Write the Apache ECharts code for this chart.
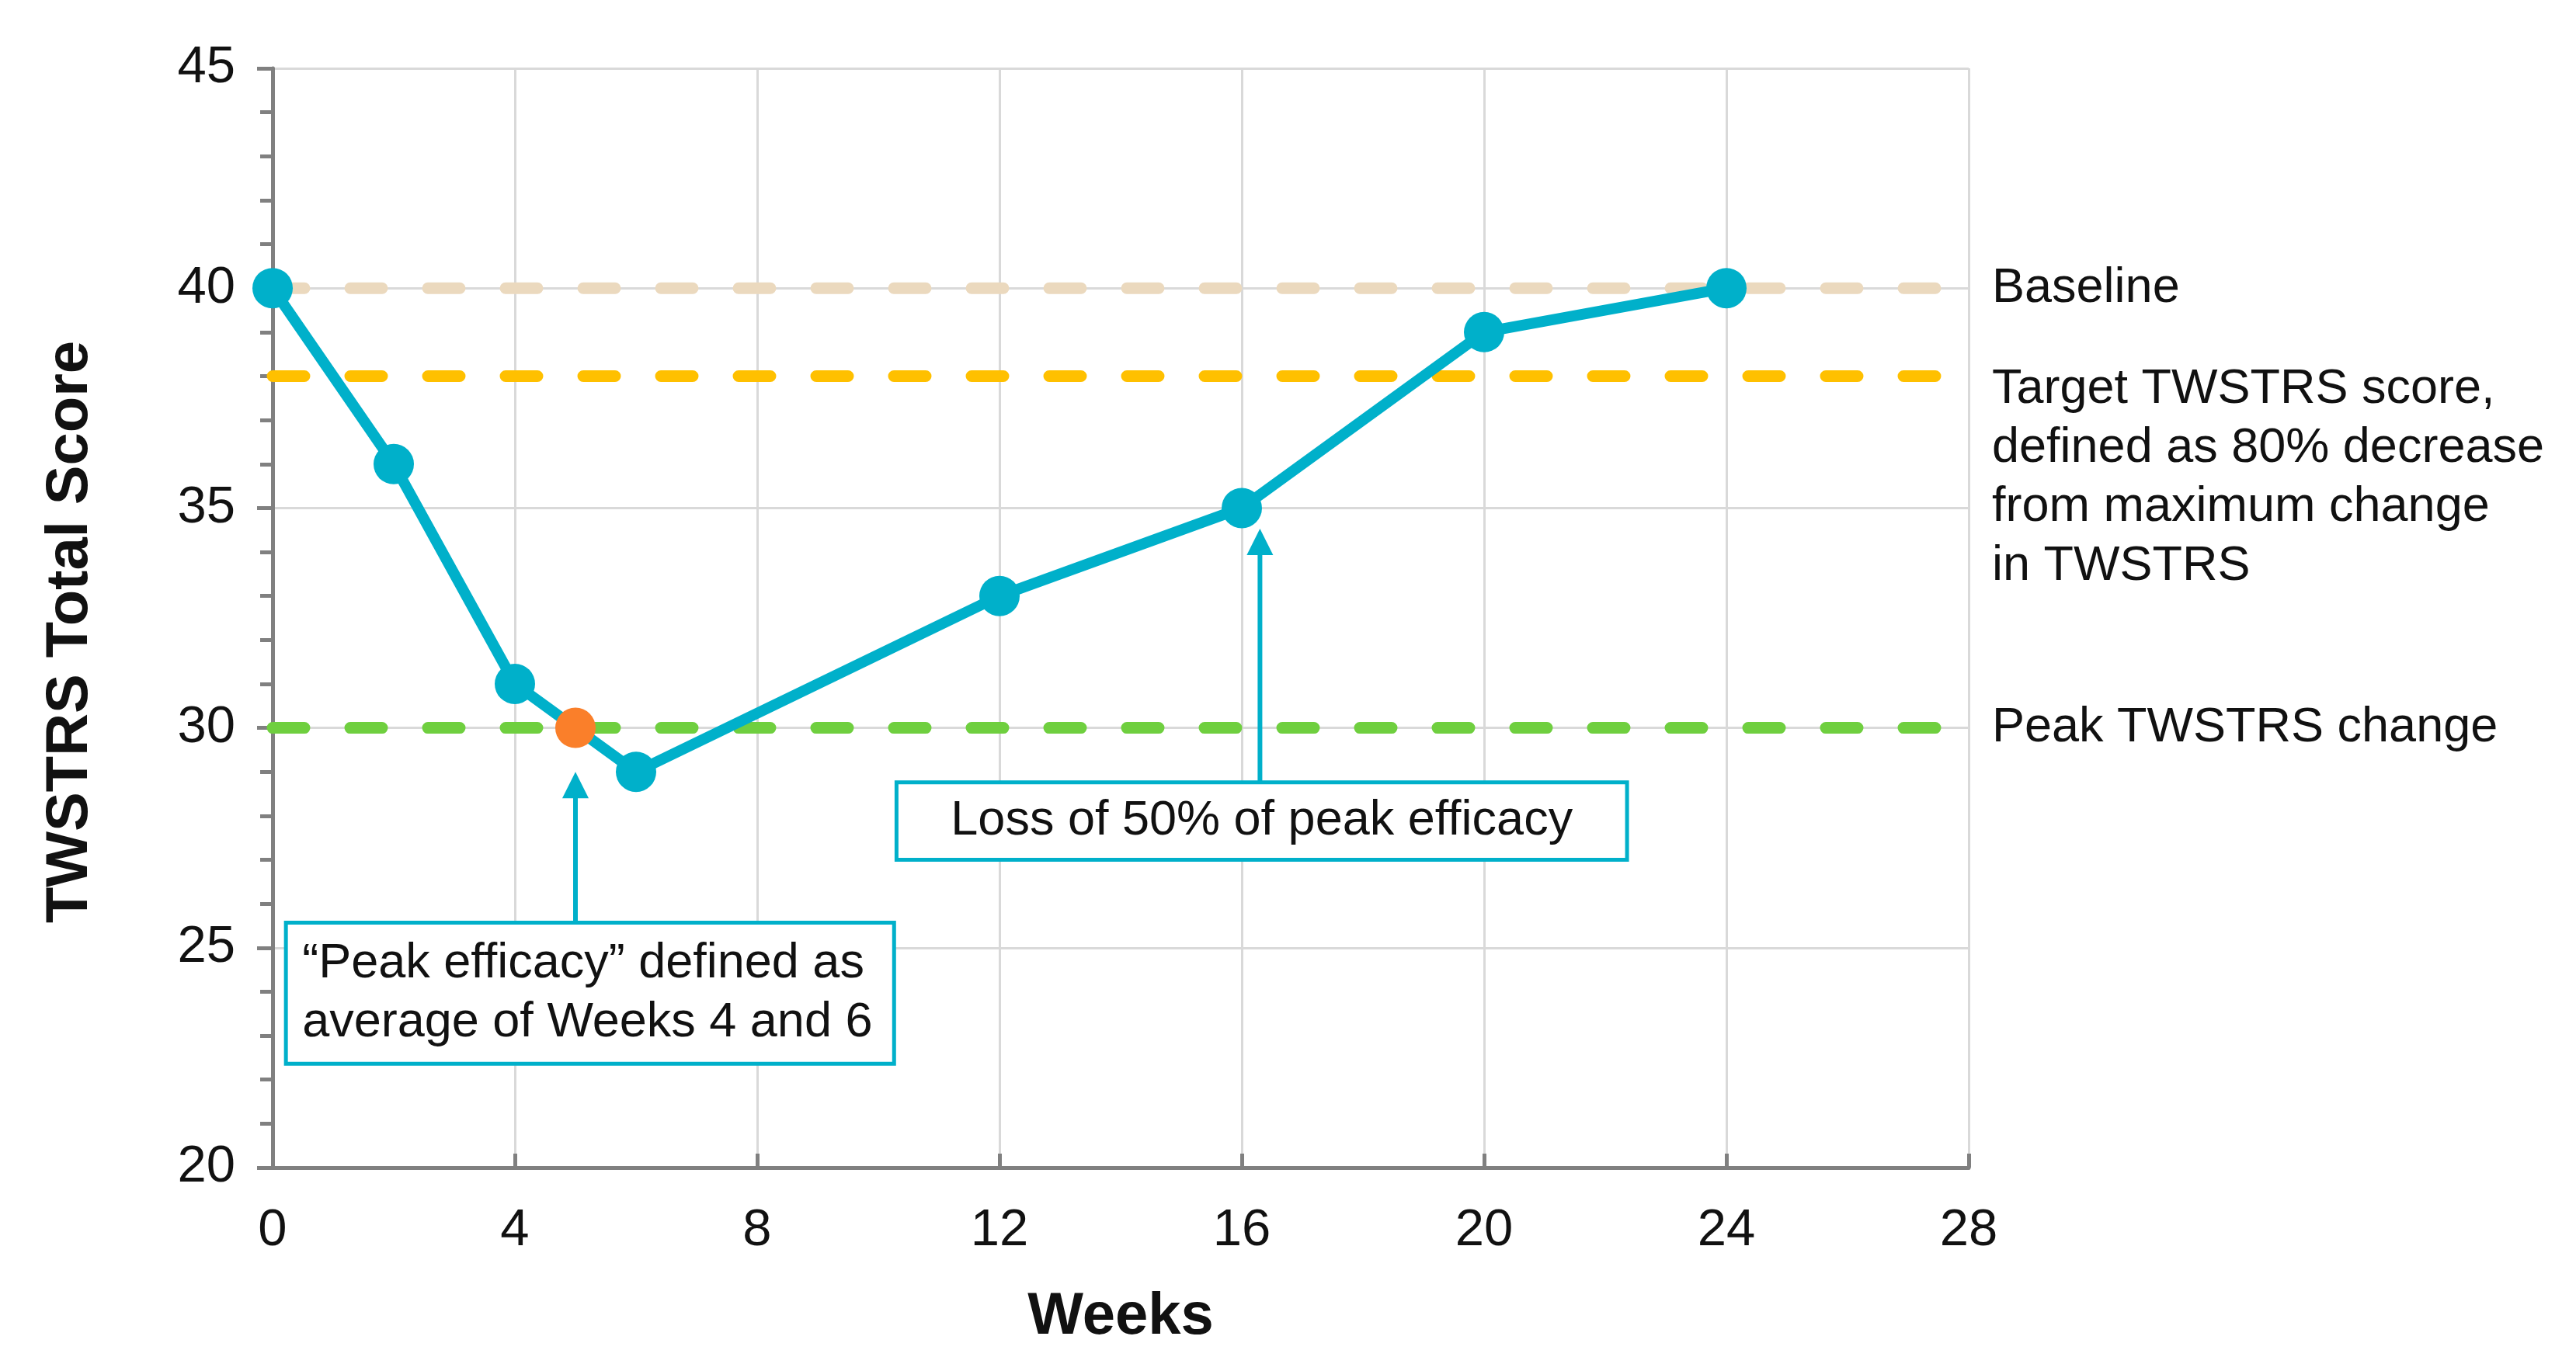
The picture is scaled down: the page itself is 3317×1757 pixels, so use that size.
<!DOCTYPE html>
<html><head><meta charset="utf-8">
<script src="https://cdn.jsdelivr.net/npm/echarts@6/dist/echarts.min.js"></script>
<style>html,body{margin:0;padding:0;background:#fff}#c{width:3317px;height:1757px}</style>
</head><body><div id="c"></div>
<script>
// ---- data ----
const weeks = [0, 2, 4, 6, 12, 16, 20, 24];
const scores = [40, 36, 31, 29, 33, 35, 39, 40];
const peakPoint = [5, 30];
const xRange = [0, 28];
const yRange = [20, 45];
const refValues = [40, 38, 30];
const refLabels = ['Baseline', 'Target TWSTRS score,\ndefined as 80% decrease\nfrom maximum change\nin TWSTRS', 'Peak TWSTRS change'];
const noteTexts = ['\u201CPeak efficacy\u201D defined as\naverage of Weeks 4 and 6', 'Loss of 50% of peak efficacy'];
const noteBoxX = [[0.22, 10.26], [10.3, 22.36]];
const noteBoxY = [[25.57, 22.36], [28.76, 27.0]];
const noteArrowX = [5, 16.3];
const noteArrowTip = [29.0, 34.53];

// ---- style ----
const FONT = '"Liberation Sans", Arial, sans-serif';
const TEAL = '#00B0CA';
const refColors = ['#EBD9BE', '#FFC000', '#6FCF3F'];
const noteAlign = ['left', 'center'];

const chart = echarts.init(document.getElementById('c'), null, {renderer: 'canvas'});

const series = refValues.map((v, i) => ({
  type: 'line',
  data: [[xRange[0], v], [xRange[1], v]],
  symbol: 'none',
  silent: true,
  z: 2,
  lineStyle: {color: refColors[i], width: 15, type: [41, 59], cap: 'round'}
}));
series.push({
  type: 'line',
  data: weeks.map((w, i) => [w, scores[i]]),
  symbol: 'circle',
  symbolSize: 52,
  z: 3,
  lineStyle: {color: TEAL, width: 14},
  itemStyle: {color: TEAL, opacity: 1}
});
series.push({
  type: 'scatter',
  data: [peakPoint],
  symbolSize: 52,
  z: 4,
  itemStyle: {color: '#FA7F2A', opacity: 1}
});

chart.setOption({
  animation: false,
  backgroundColor: '#fff',
  grid: {left: 351, right: 782, top: 88, bottom: 253, containLabel: false},
  xAxis: {
    type: 'value', min: xRange[0], max: xRange[1], interval: 4,
    name: 'Weeks', nameLocation: 'middle', nameGap: 155,
    nameTextStyle: {fontFamily: FONT, fontSize: 76, fontWeight: 'bold', color: '#111'},
    axisLine: {lineStyle: {color: '#808080', width: 5}},
    axisTick: {inside: true, length: 18, lineStyle: {color: '#808080', width: 5}},
    axisLabel: {fontFamily: FONT, fontSize: 67, color: '#111', margin: 48},
    splitLine: {show: true, lineStyle: {color: '#D9D9D9', width: 3}}
  },
  yAxis: {
    type: 'value', min: yRange[0], max: yRange[1], interval: 5,
    name: 'TWSTRS Total Score', nameLocation: 'middle', nameGap: 222,
    nameTextStyle: {fontFamily: FONT, fontSize: 76, fontWeight: 'bold', color: '#111', padding: [0, 36, 0, 0]},
    axisLine: {lineStyle: {color: '#808080', width: 5}},
    axisTick: {inside: false, length: 20, lineStyle: {color: '#808080', width: 5}},
    minorTick: {show: true, splitNumber: 5, length: 16, lineStyle: {color: '#808080', width: 5}},
    axisLabel: {fontFamily: FONT, fontSize: 67, color: '#111', margin: 48},
    splitLine: {show: true, lineStyle: {color: '#D9D9D9', width: 3}}
  },
  series: series
});

// annotations placed through the chart's own scales
const graphics = [];
refValues.forEach((v, i) => {
  const p = chart.convertToPixel({gridIndex: 0}, [xRange[1], v]);
  const multi = refLabels[i].indexOf('\n') >= 0;
  graphics.push({
    type: 'text', x: p[0] + 30, y: multi ? p[1] - 21 : p[1], z: 10,
    style: {text: refLabels[i], fill: '#111', font: '63px ' + FONT, lineHeight: 76,
            align: 'left', verticalAlign: multi ? 'top' : 'middle'}
  });
});
noteTexts.forEach((t, i) => {
  const a = chart.convertToPixel({gridIndex: 0}, [noteBoxX[i][0], noteBoxY[i][0]]);
  const b = chart.convertToPixel({gridIndex: 0}, [noteBoxX[i][1], noteBoxY[i][1]]);
  const tip = chart.convertToPixel({gridIndex: 0}, [noteArrowX[i], noteArrowTip[i]]);
  const base = chart.convertToPixel({gridIndex: 0}, [noteArrowX[i], noteBoxY[i][0]]);
  const head = 34;
  graphics.push({
    type: 'line', z: 9,
    shape: {x1: base[0], y1: base[1], x2: tip[0], y2: tip[1] + head - 2},
    style: {stroke: TEAL, lineWidth: 6}
  });
  graphics.push({
    type: 'polygon', z: 9,
    shape: {points: [[tip[0], tip[1]], [tip[0] - head / 2, tip[1] + head], [tip[0] + head / 2, tip[1] + head]]},
    style: {fill: TEAL}
  });
  graphics.push({
    type: 'rect', z: 10,
    shape: {x: a[0], y: a[1], width: b[0] - a[0], height: b[1] - a[1]},
    style: {fill: '#fff', stroke: TEAL, lineWidth: 5}
  });
  const left = noteAlign[i] === 'left';
  graphics.push({
    type: 'text', z: 11,
    x: left ? a[0] + 21 : (a[0] + b[0]) / 2, y: (a[1] + b[1]) / 2,
    style: {text: t, fill: '#111', font: '63px ' + FONT, lineHeight: 76,
            align: noteAlign[i], verticalAlign: 'middle'}
  });
});
chart.setOption({graphic: graphics});
</script>
</body></html>
